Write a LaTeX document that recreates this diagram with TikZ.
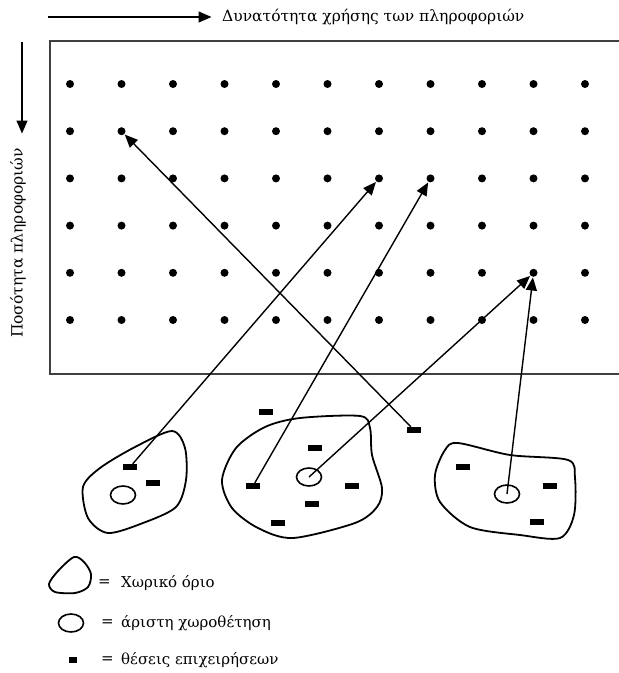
\documentclass[tikz,border=0pt]{standalone}
\usepackage{fontspec}
\setmainfont{DejaVu Serif}
\usetikzlibrary{arrows.meta,shapes.geometric}

\tikzset{
  dot/.style={circle,fill,inner sep=0pt,minimum size=8pt},
  firm/.style={rectangle,fill,inner sep=0pt,minimum width=14pt,minimum height=6pt},
  best/.style={ellipse,draw,line width=1.6pt,inner sep=0pt,minimum width=25pt,minimum height=18pt},
  area/.style={line width=1.8pt},
  link/.style={-{Triangle[length=13pt,width=11pt]},line width=1.4pt,shorten >=0.5pt},
  lbl/.style={font=\fontsize{15.5}{17}\selectfont,inner sep=0pt},
  key/.style={font=\fontsize{15}{17}\selectfont,inner sep=0pt,anchor=west}
}

\begin{document}
\begin{tikzpicture}[x=1pt,y=-1pt]
\useasboundingbox (0,0) rectangle (619,673);

% axes
\node[lbl,anchor=west] (use) at (222,17) {Δυνατότητα χρήσης των πληροφοριών};
\coordinate (usestart) at (48,17);
\coordinate (useend) at (212,17);
\draw[link] (usestart) -- (useend);
\node[lbl,rotate=90] (amount) at (18,243) {Ποσότητα πληροφοριών};
\coordinate (amtstart) at (22,42);
\coordinate (amtend) at (22,134);
\draw[link] (amtstart) -- (amtend);

% field
\draw[line width=1.8pt,draw=black!75] (625,41) -| (50,374) -- (625,374);
\foreach \c in {1,...,11}
  \foreach \r in {1,...,6}
    \node[dot] (d\r-\c) at ({70+51.5*(\c-1)},{84+47.2*(\r-1)}) {};

% spatial areas
\draw[area] plot[smooth cycle] coordinates {(172,431) (185,448) (186,480) (176,507) (143,523) (108,533) (88,518) (83,487) (100,468) (135,447)};
\draw[area] plot[smooth cycle] coordinates {(300,418) (360,416) (370,428) (372,455) (382,488) (377,507) (355,523) (293,538) (258,528) (232,508) (222,480) (236,448) (265,427)};
\draw[area] plot[smooth cycle] coordinates {(458,443) (510,455) (568,460) (575,478) (574,515) (560,538) (520,535) (470,527) (440,502) (435,475) (445,450)};

% best locations
\node[best] (c1) at (123,495) {};
\node[best] (c2) at (309,477) {};
\node[best] (c3) at (507,494) {};

% firms
\node[firm] (s1) at (130,467) {};
\node[firm] (s2) at (153,483) {};
\node[firm] (s3) at (266,412) {};
\node[firm] (s4) at (315,448) {};
\node[firm] (s5) at (253,486) {};
\node[firm] (s6) at (352,486) {};
\node[firm] (s7) at (312,504) {};
\node[firm] (s8) at (278,523) {};
\node[firm] (s9) at (414,430) {};
\node[firm] (s10) at (463,467) {};
\node[firm] (s11) at (550,486) {};
\node[firm] (s12) at (537,522) {};

\draw[link] (s9) -- (d2-2);
\draw[link] (s1) -- (d3-7);
\draw[link] (s5) -- (d3-8);
\draw[link] (c2.center) -- (d5-10);
\draw[link] (c3.center) -- (d5-10);

% legend
\draw[area] plot[smooth cycle] coordinates {(74,557) (84,562) (91,574) (88,587) (75,593) (55,592) (49,584) (58,571)};
\node[best] (kc) at (71,623) {};
\node[firm,minimum width=8pt,minimum height=6pt] (ks) at (73,660) {};
\node[key] (e1) at (98,583) {=};
\node[key] (e2) at (101,623) {=};
\node[key] (e3) at (101,660) {=};
\node[key] (k1) at (121,583) {Χωρικό όριο};
\node[key] (k2) at (121,623) {άριστη χωροθέτηση};
\node[key] (k3) at (121,660) {θέσεις επιχειρήσεων};
\end{tikzpicture}
\end{document}
